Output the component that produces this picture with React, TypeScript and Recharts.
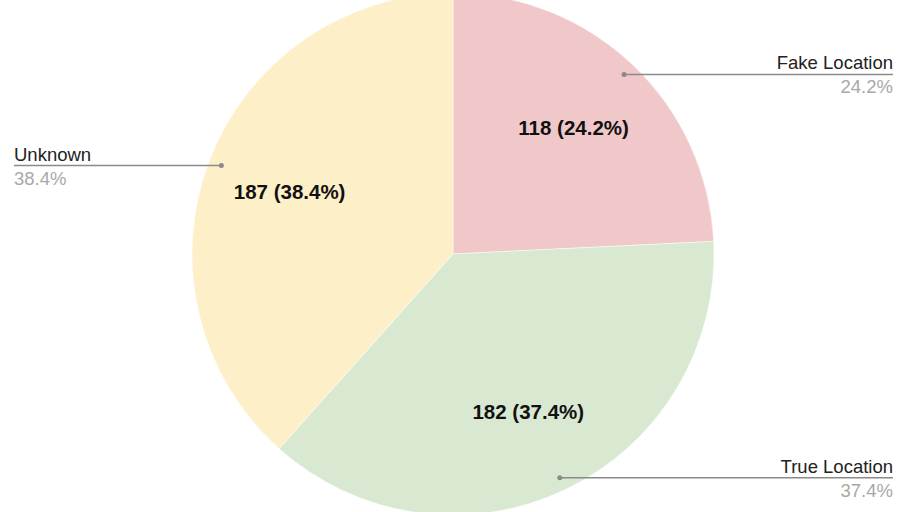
import { PieChart, Pie, Cell } from 'recharts'

const categories = ['Fake Location', 'True Location', 'Unknown']
const counts = [118, 182, 187]
const sliceColors = ['#f0c8c9', '#d8e8d1', '#fdefc8']

const data = categories.map((name, i) => ({ name, value: counts[i] }))

const RADIAN = Math.PI / 180
const CX = 453
const CY = 254
const R = 261

const renderLabel = (props: any) => {
  const { cx, cy, midAngle, outerRadius, percent, value, name } = props
  const cos = Math.cos(-midAngle * RADIAN)
  const sin = Math.sin(-midAngle * RADIAN)
  const pct = `${(percent * 100).toFixed(1)}%`
  // inner value label
  const ir = outerRadius * 0.67
  const ix = cx + ir * cos
  const iy = cy + ir * sin
  // leader line start point
  const dr = outerRadius * 0.95
  const dx = cx + dr * cos
  const dy = cy + dr * sin
  const right = cos >= 0
  const ex = right ? 893 : 14
  const anchor = right ? 'end' : 'start'
  return (
    <g>
      <text x={ix} y={iy} textAnchor="middle" dominantBaseline="central" fill="#111"
        fontSize={20.5} fontWeight="bold" fontFamily="Liberation Sans, Arial, sans-serif">
        {`${value} (${pct})`}
      </text>
      <circle cx={dx} cy={dy} r={2.5} fill="#8a8a8a" />
      <line x1={dx} y1={dy} x2={ex} y2={dy} stroke="#8a8a8a" strokeWidth={1.5} />
      <text x={ex} y={dy - 5} textAnchor={anchor} fill="#222" fontSize={18.5}
        fontFamily="Liberation Sans, Arial, sans-serif">
        {name}
      </text>
      <text x={ex} y={dy + 19} textAnchor={anchor} fill="#a8a8a8" fontSize={18.5}
        fontFamily="Liberation Sans, Arial, sans-serif">
        {pct}
      </text>
    </g>
  )
}

export default function App() {
  return (
    <div style={{ position: 'fixed', top: 0, left: 0, width: 918, height: 512, background: '#fff' }}>
      <PieChart width={918} height={512} margin={{ top: 0, right: 0, bottom: 0, left: 0 }}>
        <Pie
          data={data}
          dataKey="value"
          nameKey="name"
          cx={CX}
          cy={CY}
          outerRadius={R}
          startAngle={90}
          endAngle={-270}
          stroke="#fff"
          strokeWidth={0.5}
          label={renderLabel}
          labelLine={false}
          isAnimationActive={false}
        >
          {data.map((d, i) => (
            <Cell key={d.name} fill={sliceColors[i]} />
          ))}
        </Pie>
      </PieChart>
    </div>
  )
}
